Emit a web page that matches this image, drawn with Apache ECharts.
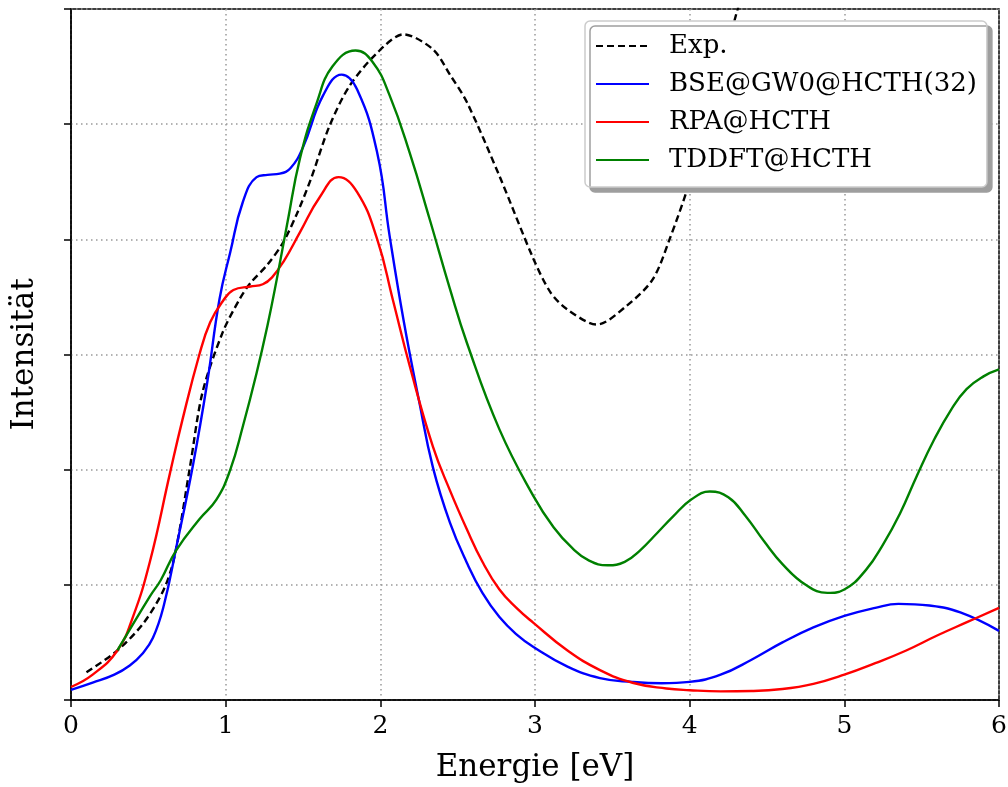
<!DOCTYPE html>
<html>
<head>
<meta charset="utf-8">
<script src="https://cdn.jsdelivr.net/npm/echarts@6/dist/echarts.min.js"></script>
<style>
  html, body { margin: 0; padding: 0; background: #fff; }
  #chart { width: 1008px; height: 787px; }
</style>
</head>
<body>
<div id="chart"></div>
<script>
// Absorption spectra: experiment vs. three calculations (energy in eV, arbitrary intensity)
const expEnergy = [0.10, 0.30, 0.47, 0.60, 0.67, 0.77, 0.85, 0.98, 1.09, 1.16, 1.27, 1.37, 1.46, 1.55, 1.67, 1.80, 1.98, 2.15, 2.34, 2.45, 2.56, 2.77, 2.99, 3.10, 3.21, 3.40, 3.59, 3.76, 3.87, 4.00, 4.16, 4.31, 4.45];
const expIntensity = [0.24, 0.43, 0.67, 0.96, 1.25, 2.03, 2.67, 3.19, 3.48, 3.62, 3.78, 3.97, 4.22, 4.52, 4.98, 5.33, 5.62, 5.78, 5.65, 5.43, 5.19, 4.55, 3.83, 3.54, 3.39, 3.26, 3.42, 3.65, 4.00, 4.50, 5.26, 6.00, 6.70];

const bseEnergy = [0, 0.14, 0.28, 0.38, 0.46, 0.53, 0.60, 0.68, 0.79, 0.88, 0.96, 1.03, 1.11, 1.20, 1.27, 1.35, 1.42, 1.50, 1.63, 1.75, 1.85, 1.98, 2.06, 2.15, 2.25, 2.34, 2.45, 2.56, 2.66, 2.77, 2.88, 2.99, 3.21, 3.42, 3.63, 3.82, 4.00, 4.20, 4.40, 4.60, 4.80, 5.00, 5.20, 5.35, 5.55, 5.75, 6.00];
const bseIntensity = [0.087, 0.15, 0.22, 0.30, 0.40, 0.54, 0.82, 1.32, 2.05, 2.75, 3.48, 3.89, 4.32, 4.54, 4.56, 4.57, 4.62, 4.80, 5.25, 5.43, 5.30, 4.75, 4.03, 3.30, 2.60, 2.02, 1.54, 1.19, 0.93, 0.72, 0.57, 0.46, 0.29, 0.19, 0.157, 0.145, 0.157, 0.22, 0.35, 0.50, 0.63, 0.73, 0.80, 0.835, 0.82, 0.76, 0.60];

const rpaEnergy = [0, 0.14, 0.30, 0.40, 0.51, 0.64, 0.72, 0.83, 0.90, 0.98, 1.05, 1.16, 1.24, 1.30, 1.38, 1.48, 1.61, 1.73, 1.85, 1.98, 2.08, 2.19, 2.34, 2.45, 2.56, 2.66, 2.77, 2.88, 2.99, 3.21, 3.42, 3.63, 3.85, 4.00, 4.20, 4.40, 4.60, 4.80, 5.00, 5.20, 5.40, 5.60, 5.80, 6.00];
const rpaIntensity = [0.113, 0.22, 0.43, 0.72, 1.20, 1.97, 2.43, 3.00, 3.28, 3.46, 3.56, 3.59, 3.61, 3.67, 3.82, 4.06, 4.37, 4.54, 4.41, 4.00, 3.48, 2.90, 2.20, 1.82, 1.48, 1.20, 0.96, 0.80, 0.67, 0.43, 0.26, 0.15, 0.10, 0.085, 0.075, 0.078, 0.095, 0.14, 0.22, 0.32, 0.43, 0.56, 0.68, 0.80];

const tddftEnergy = [0.30, 0.51, 0.58, 0.68, 0.83, 0.94, 1.03, 1.11, 1.20, 1.27, 1.33, 1.40, 1.48, 1.59, 1.69, 1.84, 1.95, 2.06, 2.19, 2.32, 2.45, 2.56, 2.77, 2.99, 3.12, 3.24, 3.35, 3.47, 3.58, 3.68, 3.79, 3.89, 4.01, 4.13, 4.25, 4.36, 4.48, 4.60, 4.75, 4.89, 5.00, 5.14, 5.25, 5.36, 5.47, 5.58, 5.69, 5.79, 5.90, 6.00];
const tddftIntensity = [0.43, 0.90, 1.04, 1.30, 1.57, 1.74, 2.00, 2.37, 2.84, 3.25, 3.65, 4.15, 4.70, 5.19, 5.50, 5.64, 5.54, 5.25, 4.75, 4.17, 3.57, 3.10, 2.35, 1.77, 1.50, 1.32, 1.21, 1.17, 1.20, 1.30, 1.45, 1.59, 1.74, 1.81, 1.76, 1.60, 1.38, 1.18, 1.00, 0.93, 0.96, 1.13, 1.35, 1.62, 1.95, 2.26, 2.52, 2.70, 2.81, 2.87];

const seriesNames = ['Exp.', 'BSE@GW0@HCTH(32)', 'RPA@HCTH', 'TDDFT@HCTH'];
const xTicks = [0, 1, 2, 3, 4, 5, 6];

const pairs = (xs, ys) => xs.map((x, i) => [x, ys[i]]);
const FONT = "'DejaVu Serif', serif";

const chart = echarts.init(document.getElementById('chart'), null, { renderer: 'canvas' });

function lineSeries(name, data, color, dashed, smooth) {
  return {
    name: name,
    type: 'line',
    data: data,
    showSymbol: false,
    symbol: 'none',
    smooth: smooth,
    clip: true,
    lineStyle: { color: color, width: 2.4, type: dashed ? [7, 4] : 'solid' },
    itemStyle: { color: color },
    emphasis: { disabled: true },
    animation: false
  };
}

chart.setOption({
  animation: false,
  backgroundColor: '#ffffff',
  grid: {
    left: 71, right: 9, top: 9, bottom: 87,
    outerBoundsMode: 'none',
    containLabel: false,
    show: true, borderColor: '#000', borderWidth: 1.5, backgroundColor: 'transparent'
  },
  xAxis: {
    type: 'value',
    min: xTicks[0], max: xTicks[xTicks.length - 1], interval: 1,
    name: 'Energie [eV]',
    nameLocation: 'middle',
    nameGap: 52,
    nameTextStyle: { fontFamily: FONT, fontSize: 31, color: '#000' },
    axisLine: { show: true, onZero: false, lineStyle: { color: '#000', width: 1.5 } },
    axisTick: { show: true, inside: false, length: 7, lineStyle: { color: '#000', width: 1.5 } },
    axisLabel: { fontFamily: FONT, fontSize: 25, color: '#000', margin: 14 },
    splitLine: { show: true, lineStyle: { color: '#999', width: 1.5, type: [1.5, 3.5] } }
  },
  yAxis: {
    type: 'value',
    min: 0, max: 6, interval: 1,
    name: 'Intensität',
    nameLocation: 'middle',
    nameGap: 31,
    nameTextStyle: { fontFamily: FONT, fontSize: 31, color: '#000' },
    axisLine: { show: true, onZero: false, lineStyle: { color: '#000', width: 1.5 } },
    axisTick: { show: true, inside: false, length: 7, lineStyle: { color: '#000', width: 1.5 } },
    axisLabel: { show: false },
    splitLine: { show: true, lineStyle: { color: '#999', width: 1.5, type: [1.5, 3.5] } }
  },
  legend: {
    show: true,
    orient: 'vertical',
    left: 585, top: 21,
    width: 380,
    padding: [12, 10, 14, 10],
    itemGap: 12,
    itemWidth: 53, itemHeight: 14,
    backgroundColor: '#ffffff',
    borderColor: '#cccccc', borderWidth: 1.5, borderRadius: 5,
    shadowColor: '#9e9e9e', shadowBlur: 0, shadowOffsetX: 5, shadowOffsetY: 5,
    selectedMode: false,
    itemStyle: { opacity: 0 },
    textStyle: { fontFamily: FONT, fontSize: 26, color: '#000', padding: [0, 0, 0, 15] },
    data: seriesNames
  },
  series: [
    lineSeries(seriesNames[0], pairs(expEnergy, expIntensity), '#000000', true, 0.3),
    lineSeries(seriesNames[1], pairs(bseEnergy, bseIntensity), '#0000ff', false, 0.45),
    lineSeries(seriesNames[2], pairs(rpaEnergy, rpaIntensity), '#ff0000', false, 0.45),
    lineSeries(seriesNames[3], pairs(tddftEnergy, tddftIntensity), '#008000', false, 0.45)
  ]
});
</script>
</body>
</html>
